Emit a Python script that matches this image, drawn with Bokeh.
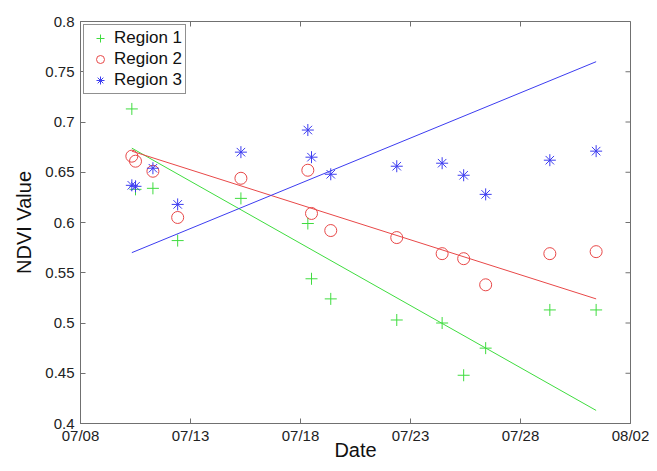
import pandas as pd
from bokeh.plotting import figure
from bokeh.models import (Range1d, FixedTicker, DatetimeTickFormatter, Legend, LegendItem,
                          ColumnDataSource)
from bokeh.embed import file_html
from bokeh.resources import INLINE

# ---------------- data ----------------
dates = ["2010-07-10 08:00", "2010-07-10 12:00", "2010-07-11 07:00", "2010-07-12 10:00",
         "2010-07-15 07:00", "2010-07-18 08:00", "2010-07-18 12:00", "2010-07-19 09:00",
         "2010-07-22 09:00", "2010-07-24 10:30", "2010-07-25 10:00", "2010-07-26 10:00",
         "2010-07-29 08:00", "2010-07-31 10:30"]
region1 = [0.713, 0.633, 0.634, 0.582, 0.624, 0.599, 0.544, 0.524,
           0.503, 0.500, 0.448, 0.475, 0.513, 0.513]
region2 = [0.666, 0.661, 0.651, 0.605, 0.644, 0.652, 0.609, 0.592,
           0.585, 0.569, 0.564, 0.538, 0.569, 0.571]
region3 = [0.637, 0.636, 0.654, 0.618, 0.670, 0.692, 0.665, 0.648,
           0.656, 0.659, 0.647, 0.628, 0.662, 0.671]

trend_dates = ["2010-07-10 08:00", "2010-07-31 10:30"]
trend1 = [0.674, 0.413]
trend2 = [0.671, 0.524]
trend3 = [0.570, 0.760]

series_names = ["Region 1", "Region 2", "Region 3"]

x_tick_dates = ["2010-07-08", "2010-07-13", "2010-07-18", "2010-07-23", "2010-07-28", "2010-08-02"]
x_tick_labels = ["07/08", "07/13", "07/18", "07/23", "07/28", "08/02"]
y_ticks = [0.4, 0.45, 0.5, 0.55, 0.6, 0.65, 0.7, 0.75, 0.8]
y_tick_labels = ["0.4", "0.45", "0.5", "0.55", "0.6", "0.65", "0.7", "0.75", "0.8"]

# ---------------- styles ----------------
GREEN = "#3fdc3f"
RED = "#e84848"
BLUE = "#3c3cf0"
AXIS = "#707070"
FONT = "Liberation Sans"

dt = pd.to_datetime(dates)
tdt = pd.to_datetime(trend_dates)
xt = pd.to_datetime(x_tick_dates)
xt_ms = [int(v) // 10**6 for v in xt.astype("int64")]

src = ColumnDataSource(dict(x=dt, r1=region1, r2=region2, r3=region3))
tsrc = ColumnDataSource(dict(x=tdt, t1=trend1, t2=trend2, t3=trend3))

p = figure(width=649, height=463, x_axis_type="datetime",
           x_range=Range1d(start=xt[0], end=xt[-1]),
           y_range=Range1d(start=y_ticks[0], end=y_ticks[-1]),
           output_backend="svg", toolbar_location=None,
           min_border_left=80, min_border_right=19, min_border_top=21, min_border_bottom=40)
p.xgrid.visible = False
p.ygrid.visible = False
p.outline_line_color = AXIS
p.background_fill_color = "white"
p.border_fill_color = "white"

r1 = p.scatter("x", "r1", source=src, marker="cross", size=12, line_color=GREEN, line_width=1)
r2 = p.scatter("x", "r2", source=src, marker="circle", size=12, line_color=RED,
               fill_color=None, line_width=1)
r3 = p.scatter("x", "r3", source=src, marker="asterisk", size=12, line_color=BLUE, line_width=1)
p.line("x", "t1", source=tsrc, line_color=GREEN, line_width=1)
p.line("x", "t2", source=tsrc, line_color=RED, line_width=1)
p.line("x", "t3", source=tsrc, line_color=BLUE, line_width=1)

# mirrored inward ticks on top and right edges (clipped to the frame, so only the inner half shows)
p.scatter(x=xt, y=[y_ticks[-1]] * len(xt), marker="dash", angle=1.5707963, size=10,
          line_color=AXIS, line_width=1)
p.scatter(x=[xt[-1]] * len(y_ticks), y=y_ticks, marker="dash", size=10,
          line_color=AXIS, line_width=1)

fmt = DatetimeTickFormatter(days="%m/%d", months="%m/%d", hours="%m/%d", years="%m/%d")

def style_axis(ax):
    ax.axis_line_color = AXIS
    ax.major_tick_line_color = AXIS
    ax.major_tick_in = 5
    ax.major_tick_out = 0
    ax.minor_tick_line_color = None
    ax.major_label_text_font = FONT
    ax.major_label_text_color = "#222222"
    ax.major_label_text_font_size = "15px"
    ax.axis_label_text_font = FONT
    ax.axis_label_text_font_size = "20px"
    ax.axis_label_text_font_style = "normal"
    ax.axis_label_text_color = "#111111"

xax = p.xaxis[0]
xax.ticker = FixedTicker(ticks=xt_ms)
xax.formatter = fmt
xax.axis_label = "Date"
style_axis(xax)
xax.major_label_standoff = 3
xax.axis_label_standoff = -8

yax = p.yaxis[0]
yax.ticker = FixedTicker(ticks=y_ticks)
yax.major_label_overrides = {v: s for v, s in zip(y_ticks, y_tick_labels)}
yax.axis_label = "NDVI Value"
style_axis(yax)
yax.major_label_standoff = 6
yax.axis_label_standoff = 7

legend = Legend(items=[LegendItem(label=series_names[0], renderers=[r1]),
                       LegendItem(label=series_names[1], renderers=[r2]),
                       LegendItem(label=series_names[2], renderers=[r3])],
                location="top_left", margin=3, padding=3, spacing=1,
                glyph_width=26, glyph_height=20, label_standoff=1, label_height=20,
                label_text_font=FONT, label_text_font_size="17px", label_text_color="#111111",
                border_line_color="#222222", border_line_width=1,
                background_fill_color="white", background_fill_alpha=1.0)
p.add_layout(legend)

open("out.html", "w").write(file_html(p, INLINE))
